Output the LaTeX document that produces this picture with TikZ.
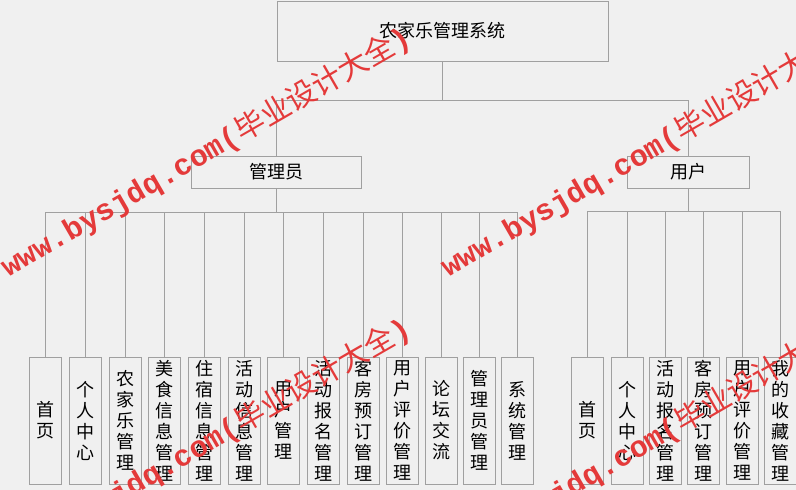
\documentclass[tikz,border=0pt]{standalone}
\usepackage{fontspec}
\newfontfamily\cjk{Noto Sans CJK SC}
\newfontfamily\wmlat{Liberation Mono}
\definecolor{bg}{RGB}{240,240,240}
\definecolor{ln}{RGB}{160,160,160}
\definecolor{wm}{RGB}{228,58,58}
\tikzset{
 box/.style={draw=ln, line width=1pt, fill=bg, inner sep=0pt, font=\cjk\fontsize{18}{21}\selectfont, align=center},
 leaf/.style={box, minimum width=32pt, minimum height=127pt},
 conn/.style={draw=ln, line width=1pt},
 wmark/.style={anchor=base west, rotate=30, inner sep=0pt, text=wm}
}
\newcommand{\wmtext}{{\wmlat\bfseries\fontsize{30}{30}\selectfont www.bysjdq.com(}{\cjk\fontsize{30}{30}\selectfont 毕业设计大全}{\wmlat\bfseries\fontsize{30}{30}\selectfont )}}
\begin{document}
\begin{tikzpicture}[x=1pt,y=-1pt]
\fill[bg] (0,0) rectangle (796,490);
\useasboundingbox (0,0) rectangle (796,490);
% top levels
\node[box, minimum width=331pt, minimum height=60pt] (top) at (442.5,31) {农家乐管理系统};
\node[box, minimum width=170pt, minimum height=32pt] (admin) at (276,172) {管理员};
\node[box, minimum width=122pt, minimum height=32pt] (user) at (688,172) {用户};
\coordinate (bus1) at (442,100);
\coordinate (bus2) at (276,212);
\coordinate (bus3) at (688,211);
% admin leaves
\node[leaf] (a1) at (45,420.5) {首\\页};
\node[leaf] (a2) at (85,420.5) {个\\人\\中\\心};
\node[leaf] (a3) at (125,420.5) {农\\家\\乐\\管\\理};
\node[leaf] (a4) at (164,420.5) {美\\食\\信\\息\\管\\理};
\node[leaf] (a5) at (204,420.5) {住\\宿\\信\\息\\管\\理};
\node[leaf] (a6) at (244,420.5) {活\\动\\信\\息\\管\\理};
\node[leaf] (a7) at (283.5,420.5) {用\\户\\管\\理};
\node[leaf] (a8) at (323,420.5) {活\\动\\报\\名\\管\\理};
\node[leaf] (a9) at (363,420.5) {客\\房\\预\\订\\管\\理};
\node[leaf] (a10) at (402.5,420.5) {用\\户\\评\\价\\管\\理};
\node[leaf] (a11) at (441,420.5) {论\\坛\\交\\流};
\node[leaf] (a12) at (479,420.5) {管\\理\\员\\管\\理};
\node[leaf] (a13) at (517.5,420.5) {系\\统\\管\\理};
% user leaves
\node[leaf] (u1) at (587,420.5) {首\\页};
\node[leaf] (u2) at (627,420.5) {个\\人\\中\\心};
\node[leaf] (u3) at (665,420.5) {活\\动\\报\\名\\管\\理};
\node[leaf] (u4) at (703,420.5) {客\\房\\预\\订\\管\\理};
\node[leaf] (u5) at (742,420.5) {用\\户\\评\\价\\管\\理};
\node[leaf] (u6) at (780,420.5) {我\\的\\收\\藏\\管\\理};
% connectors
\draw[conn] (top.south) -- (top.south |- bus1);
\draw[conn] (admin.north) -- (admin.north |- bus1) -- (user.north |- bus1) -- (user.north);
\draw[conn] (admin.south) -- (admin.south |- bus2);
\draw[conn] (a1.north |- bus2) -- (a13.north |- bus2);
\foreach \i in {1,...,13} \draw[conn] (a\i.north) -- (a\i.north |- bus2);
\draw[conn] (user.south) -- (user.south |- bus3);
\draw[conn] (u1.north |- bus3) -- (u6.north |- bus3);
\foreach \i in {1,...,6} \draw[conn] (u\i.north) -- (u\i.north |- bus3);
% watermarks
\begin{scope}
\clip (0,0) rectangle (796,490);
\node[wmark] (wm1) at (8,278) {\wmtext};
\node[wmark] (wm2) at (448,278) {\wmtext};
\node[wmark] (wm3) at (8,569) {\wmtext};
\node[wmark] (wm4) at (448,569) {\wmtext};
\end{scope}
\end{tikzpicture}
\end{document}
